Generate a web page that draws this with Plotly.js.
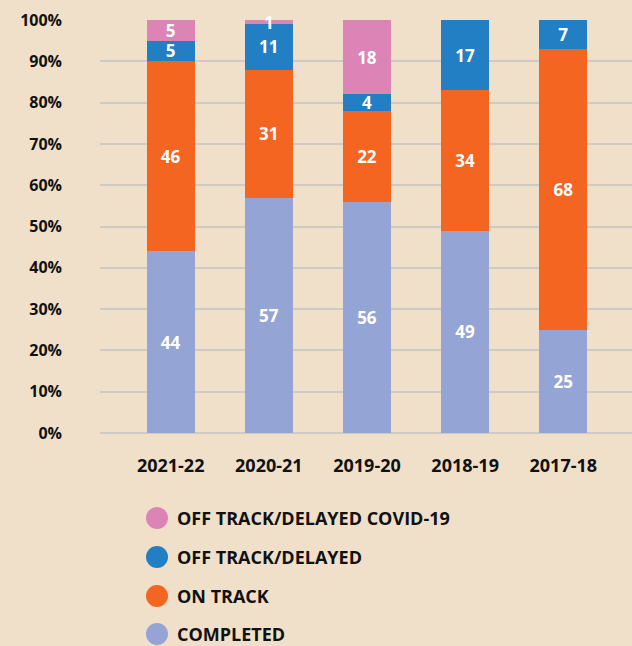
<!DOCTYPE html>
<html>
<head>
<meta charset="utf-8">
<script src="https://cdn.plot.ly/plotly-3.0.1.min.js"></script>
<style>
  html, body { margin: 0; padding: 0; background: #F0E0CA; }
  #chart { width: 632px; height: 646px; }
</style>
</head>
<body>
<div id="chart"></div>
<script>
// ---- data ----
const years = ['2021-22', '2020-21', '2019-20', '2018-19', '2017-18'];
const completed = [44, 57, 56, 49, 25];
const onTrack = [46, 31, 22, 34, 68];
const offTrack = [5, 11, 4, 17, 7];
const offTrackCovid = [5, 1, 18, 0, 0];
const seriesNames = ['COMPLETED', 'ON TRACK', 'OFF TRACK/DELAYED', 'OFF TRACK/DELAYED COVID-19'];
const seriesColors = ['#94A4D4', '#F46522', '#227FC4', '#DB84B5'];
const seriesValues = [completed, onTrack, offTrack, offTrackCovid];

const FONT = '"Open Sans", "DejaVu Sans", sans-serif';

const traces = seriesValues.map((vals, i) => ({
  type: 'bar',
  name: seriesNames[i],
  x: years,
  y: vals,
  width: 0.49,
  marker: { color: seriesColors[i], line: { width: 0 } },
  text: vals.map(v => v > 0 ? String(v) : ''),
  texttemplate: '%{text}',
  textposition: 'inside',
  insidetextanchor: 'middle',
  textangle: 0,
  constraintext: 'none',
  cliponaxis: false,
  textfont: { family: FONT, size: 17, color: '#FFFFFF', weight: 700 },
  showlegend: false,
  hoverinfo: 'x+y+name'
}));

// ---- custom legend (circle markers) ----
const W = 632, H = 646;
const mL = 100, mR = 0, mT = 20, mB = 213;
const pw = W - mL - mR, ph = H - mT - mB;
const legendRowsPx = [518, 557, 596, 634];
const legendOrder = [3, 2, 1, 0];
const circleX = 157, textX = 176, r = 11;
const shapes = [], annotations = [];
legendOrder.forEach((si, k) => {
  const yPaper = (H - mB - legendRowsPx[k]) / ph;
  const xPaper = (circleX - mL) / pw;
  shapes.push({
    type: 'circle', xref: 'paper', yref: 'paper',
    xsizemode: 'pixel', ysizemode: 'pixel',
    xanchor: xPaper, yanchor: yPaper,
    x0: -r, x1: r, y0: -r, y1: r,
    fillcolor: seriesColors[si], line: { width: 0 }
  });
  annotations.push({
    xref: 'paper', yref: 'paper',
    x: (textX - mL) / pw, y: yPaper,
    xanchor: 'left', yanchor: 'middle',
    text: seriesNames[si], showarrow: false,
    borderpad: 0,
    font: { family: FONT, size: 18, color: '#111111', weight: 700 }
  });
});

const layout = {
  width: W, height: H,
  margin: { l: mL, r: mR, t: mT, b: mB, pad: 0 },
  paper_bgcolor: '#F0E0CA',
  plot_bgcolor: '#F0E0CA',
  barmode: 'stack',
  showlegend: false,
  uniformtext: { mode: 'show', minsize: 17 },
  xaxis: {
    type: 'category',
    range: [-0.72, 4.7],
    showgrid: false,
    zeroline: false,
    showline: false,
    ticks: '',
    ticklabelstandoff: 20,
    tickfont: { family: FONT, size: 18, color: '#111111', weight: 700 },
    fixedrange: true
  },
  yaxis: {
    range: [0, 100],
    dtick: 10,
    tick0: 0,
    ticksuffix: '%',
    showgrid: true,
    gridcolor: '#CFCAC2',
    gridwidth: 1.5,
    zeroline: true,
    zerolinecolor: '#CFCAC2',
    zerolinewidth: 1.5,
    showline: false,
    ticks: '',
    ticklabelstandoff: 37,
    tickfont: { family: FONT, size: 16, color: '#111111', weight: 700 },
    fixedrange: true
  },
  shapes: shapes,
  annotations: annotations,
  font: { family: FONT }
};

Plotly.newPlot('chart', traces, layout, { displayModeBar: false });
</script>
</body>
</html>
